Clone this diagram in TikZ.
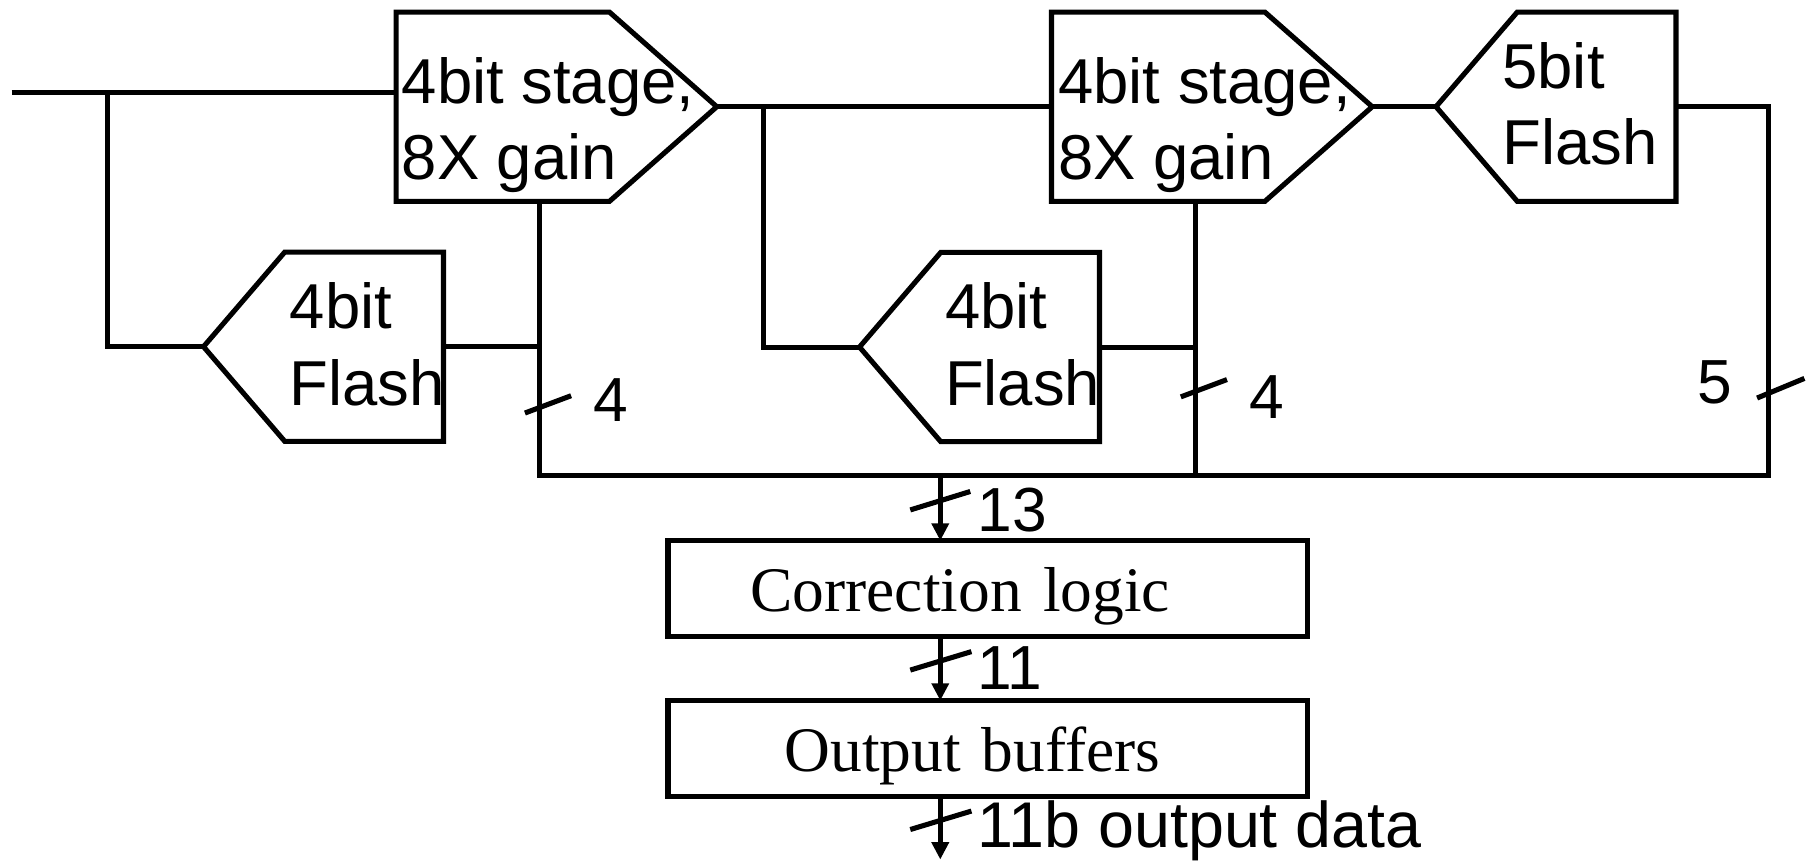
\documentclass[tikz,border=0pt]{standalone}
\usepackage{fontspec}
\setmainfont{Liberation Sans}
\newfontfamily\timesfont{Liberation Serif}
\usetikzlibrary{shapes.symbols}
\usetikzlibrary{arrows.meta}

\begin{document}
\begin{tikzpicture}[x=1pt,y=-1pt,line width=4.4pt,
    >={Triangle[length=15pt,width=14.5pt]},
    stage/.style={draw,shape=signal,signal to=east,signal pointer angle=82.8,
                  minimum width=278pt,minimum height=164pt,inner sep=0pt,outer sep=0pt,anchor=west},
    flash/.style={draw,shape=signal,signal to=west,signal pointer angle=98.7,
                  minimum width=208pt,minimum height=164pt,inner sep=0pt,outer sep=0pt,anchor=east},
    boxtext/.style={font=\fontsize{55pt}{66pt}\selectfont,align=left,inner sep=0pt,anchor=north west},
    bits/.style={font=\fontsize{54pt}{64pt}\selectfont,inner sep=0pt,anchor=base west},
    logic/.style={draw,rectangle,minimum width=554pt,minimum height=83.3pt,outer sep=0pt,
                  align=left,inner ysep=0pt,text height=40pt,text depth=0.6pt,
                  font=\timesfont\fontsize{55pt}{64pt}\selectfont}]
\useasboundingbox (0,0) rectangle (1568,748);
% pipeline stages and flash converters
\node[stage] (st1) at (343.3,92.5) {};
\node[stage] (st2) at (911.4,92.5) {};
\node[flash] (fl1) at (384.4,300.5) {};
\node[flash] (fl2) at (953,300.8) {};
\node[flash] (fl3) at (1452.7,92.5) {};
\node[boxtext] (st1txt) at (346,47.5) {4bit stage,\\8X gain};
\node[boxtext] (st2txt) at (915,47.5) {4bit stage,\\8X gain};
\node[boxtext] (fl1txt) at (249,243) {4bit\\Flash};
\node[boxtext] (fl2txt) at (817,243) {4bit\\Flash};
\node[boxtext] (fl3txt) at (1300,34.5) {5bit\\Flash};
% digital back end
\node[logic,inner xsep=71.5pt,text width=411pt] (corr) at (856,510.3) {Correction logic};
\node[logic,inner xsep=101pt,text width=352pt] (outb) at (856,648.9) {Output buffers};
% wiring
\coordinate (inp) at (10,80);
\coordinate (j1) at (93.3,80);
\coordinate (j2) at (662,92.5);
\coordinate (bus1) at (468,412.5);
\coordinate (bus2) at (1036,412.5);
\coordinate (bus3) at (1532.5,412.5);
\coordinate (tap) at (815,412.5);
\coordinate (dout) at (815,745);
\draw (inp) -- (inp -| st1.west);
\draw (j1) |- (fl1.west);
\draw (st1.east) -- (st2.west);
\draw (j2) |- (fl2.west);
\draw (st2.east) -- (fl3.west);
\draw (fl3.east) -| (bus3) -- (bus1) -- (bus1 |- st1.south);
\draw (bus2) -- (bus2 |- st2.south);
\draw (fl1.east) -- (fl1.east -| bus1);
\draw (fl2.east) -- (fl2.east -| bus2);
\draw[->] (tap) -- (tap |- corr.north);
\draw[->] (tap |- corr.south) -- (tap |- outb.north);
\draw[->] (tap |- outb.south) -- (dout);
% bus width marks
\coordinate (m1) at (468,353);
\coordinate (m2) at (1036,339.5);
\coordinate (m3) at (1532.5,341);
\coordinate (m4) at (815,434);
\coordinate (m5) at (815,572.8);
\coordinate (m6) at (815,711);
\draw (m1) ++(-13,5) -- ++(40,-15);
\draw (m2) ++(-12.5,4.5) -- ++(40,-15);
\draw (m3) ++(-9.5,4) -- ++(41,-17);
\draw (m4) ++(-26,8) -- ++(52,-16);
\draw (m5) ++(-26,8) -- ++(53,-16);
\draw (m6) ++(-26,8) -- ++(53,-16);
\node[bits] (n1) at (512.5,365) {4};
\node[bits] (n2) at (1081,363) {4};
\node[bits] (n3) at (1469,350) {5};
\node[bits] (n4) at (845,461) {13};
\node[bits] (n5) at (845,598) {11};
\node[bits,font=\fontsize{56pt}{64pt}\selectfont] (n6) at (845,735) {11b output data};
\end{tikzpicture}
\end{document}
